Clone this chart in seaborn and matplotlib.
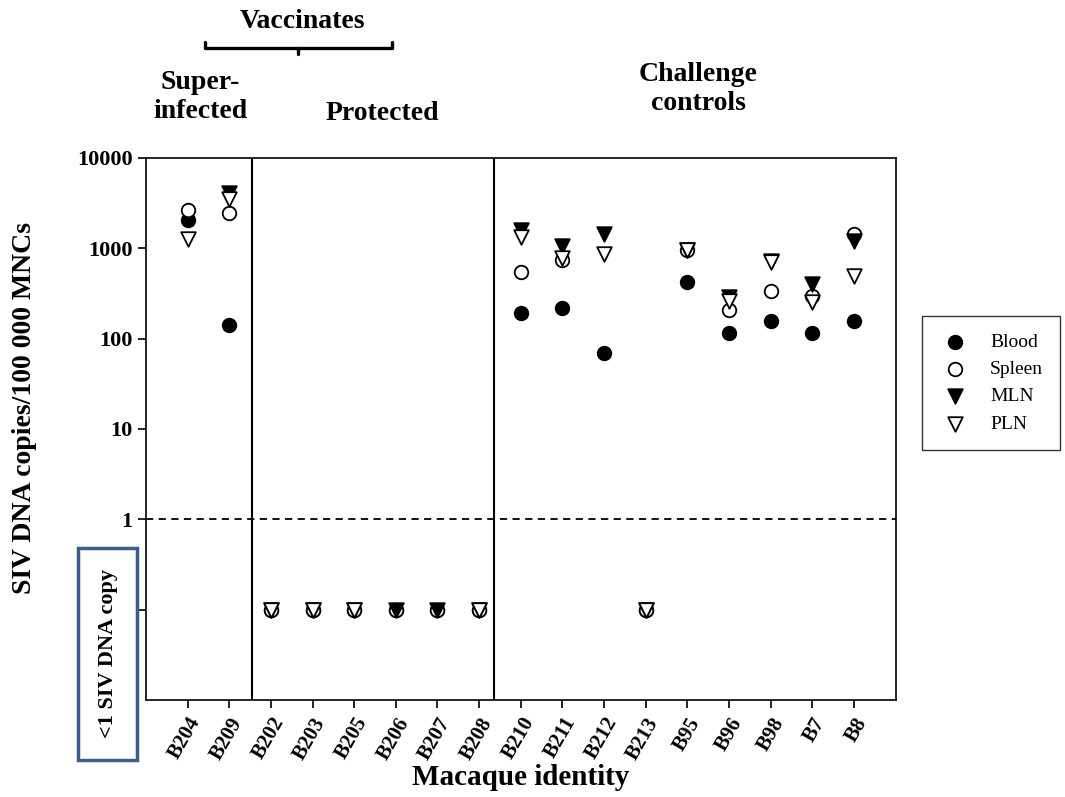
import numpy as np
import pandas as pd
import matplotlib.pyplot as plt
import seaborn as sns
from matplotlib.patches import Rectangle

# Macaque identity (x categories)
macaques = ["B204", "B209", "B202", "B203", "B205", "B206", "B207", "B208",
            "B210", "B211", "B212", "B213", "B95", "B96", "B98", "B7", "B8"]

# SIV DNA copies / 100 000 MNCs (0.1 = below 1 copy), nan = not shown
blood  = [2050, 141, 0.1, 0.1, 0.1, 0.1, 0.1, 0.1, 192, 218, 69, 0.1, 425, 115, 155, 115, 155]
spleen = [2650, 2450, 0.1, 0.1, 0.1, 0.1, 0.1, 0.1, 540, 740, np.nan, 0.1, 950, 205, 340, 295, 1430]
mln    = [np.nan, 4100, 0.1, 0.1, 0.1, 0.1, 0.1, 0.1, 1585, 1050, 1430, 0.1, 950, 290, 720, 405, 1200]
pln    = [1260, 3500, 0.1, 0.1, 0.1, np.nan, np.nan, 0.1, 1320, 775, 860, 0.1, 950, 260, 705, 253, 500]

tissues = ["Blood", "Spleen", "MLN", "PLN"]
series = [blood, spleen, mln, pln]

rows = []
for t, vals in zip(tissues, series):
    for i, (m, v) in enumerate(zip(macaques, vals)):
        rows.append({"pos": i, "macaque": m, "tissue": t, "copies": v})
df = pd.DataFrame(rows).dropna()

sns.set_style("ticks")
plt.rcParams['font.family'] = ['Liberation Serif', 'DejaVu Serif']
plt.rcParams['font.weight'] = 'bold'
plt.rcParams['text.color'] = 'black'
plt.rcParams['axes.labelcolor'] = 'black'
plt.rcParams['xtick.color'] = 'black'
plt.rcParams['ytick.color'] = 'black'

fig = plt.figure(figsize=(10.65, 7.97), dpi=100)
ax = fig.add_axes([0.137, 0.1217, 0.704, 0.6801])

styles = {
    "Blood":  dict(marker="o", facecolor="black", s=95),
    "Spleen": dict(marker="o", facecolor="white", s=95),
    "MLN":    dict(marker="v", facecolor="black", s=110),
    "PLN":    dict(marker="v", facecolor="white", s=110),
}
for t in tissues:
    st = styles[t]
    sns.scatterplot(data=df[df.tissue == t], x="pos", y="copies", ax=ax,
                    marker=st["marker"], s=st["s"], color=st["facecolor"],
                    edgecolor="black", linewidth=1.3, label=t, zorder=3)

ax.set_yscale("log")
ax.set_ylim(0.01, 10000)
ax.set_xlim(-1, len(macaques))
ax.set_yticks([0.1, 1, 10, 100, 1000, 10000])
ax.set_yticklabels(["", "1", "10", "100", "1000", "10000"], fontsize=16, fontweight="bold")
ax.minorticks_off()
ax.set_xticks(range(len(macaques)))
ax.set_xticklabels(macaques, rotation=60, ha="right", rotation_mode="anchor",
                   fontsize=15, fontweight="bold")
ax.tick_params(axis="both", direction="out", length=6, width=1.2, colors="black")
ax.tick_params(axis="x", pad=4)

for sp in ax.spines.values():
    sp.set_color("black")
    sp.set_linewidth(1.2)

# group separators and detection limit
ax.axvline(1.55, color="black", lw=1.5)
ax.axvline(7.35, color="black", lw=1.5)
ax.axhline(1.0, color="black", lw=1.3, ls=(0, (4, 3)))

ax.set_xlabel("Macaque identity", fontsize=21, fontweight="bold")
ax.xaxis.set_label_coords(0.5, -0.118)
ax.set_ylabel("SIV DNA copies/100 000 MNCs", fontsize=20, fontweight="bold")
ax.yaxis.set_label_coords(-0.145, 0.539)

# legend
leg = ax.legend(loc="upper left", bbox_to_anchor=(1.035, 0.709), frameon=True,
                fancybox=False, edgecolor="black", fontsize=14, handlelength=1.6,
                handletextpad=1.0, borderpad=0.9, labelspacing=0.5, borderaxespad=0)
leg.get_frame().set_linewidth(1.0)
for txt in leg.get_texts():
    txt.set_fontweight("normal")

# header annotations
fig.text(302 / 1065, 1 - 22 / 797, "Vaccinates", ha="center", va="center", fontsize=20, fontweight="bold")
fig.text(200 / 1065, 1 - 97 / 797, "Super-\ninfected", ha="center", va="center", fontsize=20,
         fontweight="bold", linespacing=1.2)
fig.text(382 / 1065, 1 - 114 / 797, "Protected", ha="center", va="center", fontsize=20, fontweight="bold")
fig.text(698 / 1065, 1 - 89 / 797, "Challenge\ncontrols", ha="center", va="center", fontsize=20,
         fontweight="bold", linespacing=1.2)

# bracket under "Vaccinates"
bx0, bx1, by = 205 / 1065, 392 / 1065, 1 - 48 / 797
fig.add_artist(plt.Line2D([bx0, bx0, bx1, bx1], [by + 0.008, by, by, by + 0.008],
                          color="black", lw=2.4, transform=fig.transFigure))
fig.add_artist(plt.Line2D([298 / 1065, 298 / 1065], [by, by - 0.008],
                          color="black", lw=2.4, transform=fig.transFigure))

# "<1 SIV DNA copy" box
fig.add_artist(Rectangle((78 / 1065, 1 - 760 / 797), 59 / 1065, 212 / 797, transform=fig.transFigure,
                         facecolor="white", edgecolor="#3b5f8a", lw=2.5))
fig.text(108 / 1065, 1 - 654 / 797, "<1 SIV DNA copy", rotation=90, ha="center", va="center",
         fontsize=16, fontweight="bold")

fig.savefig("out.png", dpi=100)
